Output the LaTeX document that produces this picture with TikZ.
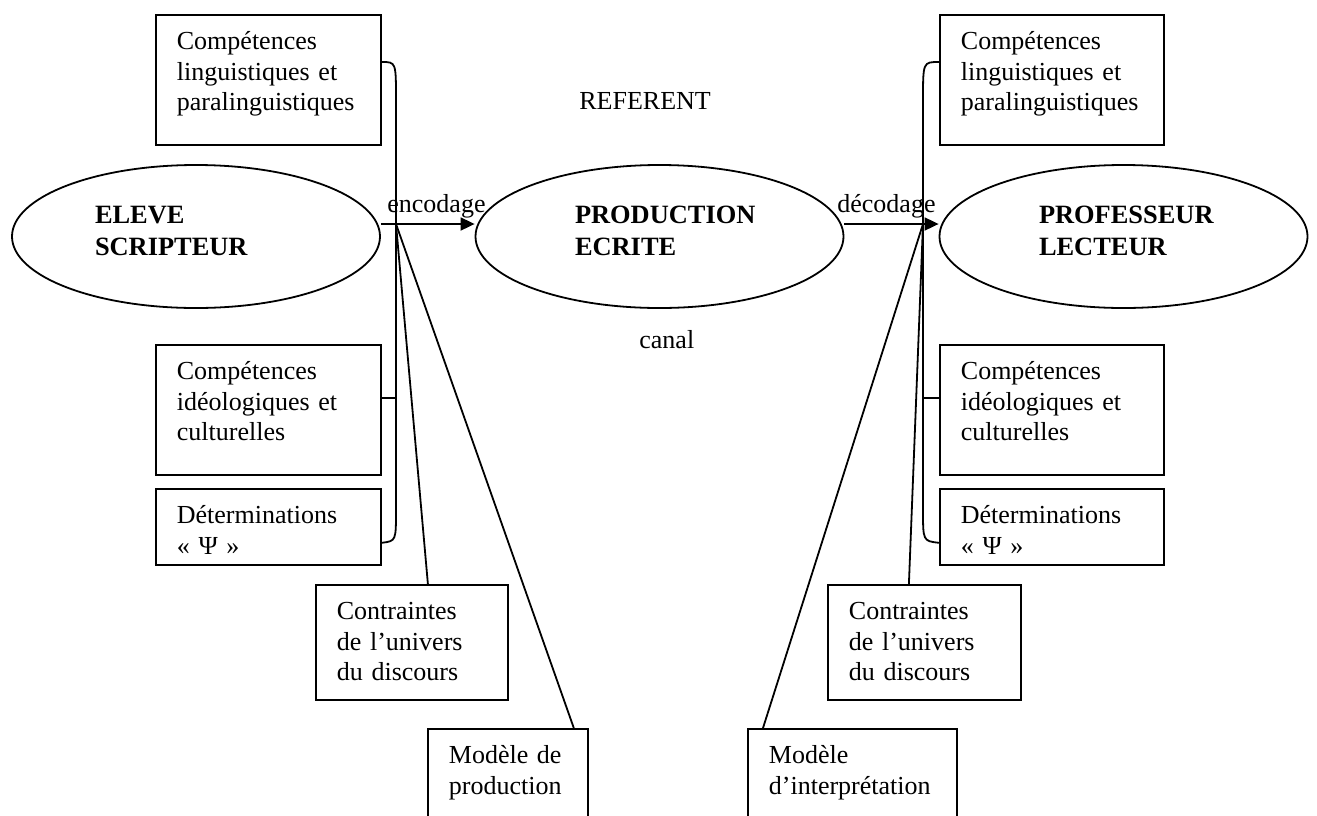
\documentclass[tikz,border=0pt]{standalone}
\usepackage{fontspec}
\setmainfont{Liberation Serif}
\usepackage{tikz}
\usetikzlibrary{shapes.geometric,arrows.meta}
\tikzset{
		lineStyle/.style = {line width = 0.9pt},
		compBox/.style =   {draw, lineStyle, anchor=north west, inner xsep=10.5pt, inner ysep=0pt,
		                    align=left, text height=17.5pt, font=\fontsize{13}{15.25}\selectfont},
		actor/.style =     {ellipse, draw, lineStyle, inner sep=0pt, minimum width=184pt, minimum height=71.5pt,
		                    align=left, text height=9pt, text depth=22.5pt, font=\fontsize{13.2}{16}\selectfont\bfseries},
		plainText/.style = {anchor=base west, inner sep=0pt, font=\fontsize{13}{15.25}\selectfont},
    flowArrow/.style = {lineStyle, -{Triangle[length=7pt,width=6.5pt]}}
}
\begin{document}
\begin{tikzpicture}[x=0.5pt, y=-0.5pt]
  \useasboundingbox (0,0) rectangle (1317,815);
  \clip (0,0) rectangle (1317,815);

  % Ellipses of the communication chain
  \node [actor, text width=101pt]  (lell) at (196,236.5)    {ELEVE\\SCRIPTEUR};
  \node [actor, text width=84.5pt] (mell) at (659.5,236.5)  {PRODUCTION\\ECRITE};
  \node [actor, text width=84.5pt] (rell) at (1123.5,236.5) {PROFESSEUR\\LECTEUR};

  \coordinate (lfan) at (396,224);
  \coordinate (rfan) at (923,224);

  % Encoding and decoding arrows
  \draw [flowArrow] (lfan -| lell.east) -- (lfan -| mell.west);
  \draw [flowArrow] (rfan -| mell.east) -- (rfan -| rell.west);
  \node [plainText] (enc) at (387,212) {encodage};
  \node [plainText] (dec) at (837,212) {décodage};

  \node [plainText] (ref)   at (579,109) {REFERENT};
  \node [plainText] (canal) at (639,348) {canal};

  % Boxes of the writer
  \node [compBox, text width=91.5pt, text depth=47.5pt] (ltop)  at (155,14)  {Compétences\\linguistiques et\\paralinguistiques};
  \node [compBox, text width=91.5pt, text depth=47.5pt] (lideo) at (155,344) {Compétences\\idéologiques et\\culturelles};
  \node [compBox, text width=91.5pt, text depth=20.5pt] (ldet)  at (155,488) {Déterminations\\« Ψ »};
  \node [compBox, text width=75pt, text depth=40pt]     (lcon)  at (315,584) {Contraintes\\de l’univers\\du discours};
  \node [compBox, text width=59pt, text depth=40pt]     (lmod)  at (427,728) {Modèle de\\production};

  % Boxes of the reader
  \node [compBox, text width=91pt, text depth=47.5pt]   (rtop)  at (939,14)  {Compétences\\linguistiques et\\paralinguistiques};
  \node [compBox, text width=91pt, text depth=47.5pt]   (rideo) at (939,344) {Compétences\\idéologiques et\\culturelles};
  \node [compBox, text width=91pt, text depth=20.5pt]   (rdet)  at (939,488) {Déterminations\\« Ψ »};
  \node [compBox, text width=75.5pt, text depth=40pt]   (rcon)  at (827,584) {Contraintes\\de l’univers\\du discours};
  \node [compBox, text width=83.5pt, text depth=40pt]   (rmod)  at (747,728) {Modèle\\d’interprétation};

  % Brackets joining the competences
  \draw [lineStyle] ([yshift=-24pt]ltop.north east) .. controls (396,62) .. (396,100)
        -- (396,510) .. controls (396,541) .. ([yshift=11.5pt]ldet.south east);
  \draw [lineStyle] ([yshift=-27pt]lideo.north east) -- (396,398);
  \draw [lineStyle] ([yshift=-24pt]rtop.north west) .. controls (923,62) .. (923,100)
        -- (923,510) .. controls (923,541) .. ([yshift=11.5pt]rdet.south west);
  \draw [lineStyle] ([yshift=-27pt]rideo.north west) -- (923,398);

  % Fan lines to constraints and models
  \draw [lineStyle] (lfan) -- ([xshift=8pt]lcon.north);
  \draw [lineStyle] (lfan) -- ([xshift=-7.5pt]lmod.north east);
  \draw [lineStyle] (rfan) -- ([xshift=-7.75pt]rcon.north);
  \draw [lineStyle] (rfan) -- ([xshift=8pt]rmod.north west);
\end{tikzpicture}
\end{document}
